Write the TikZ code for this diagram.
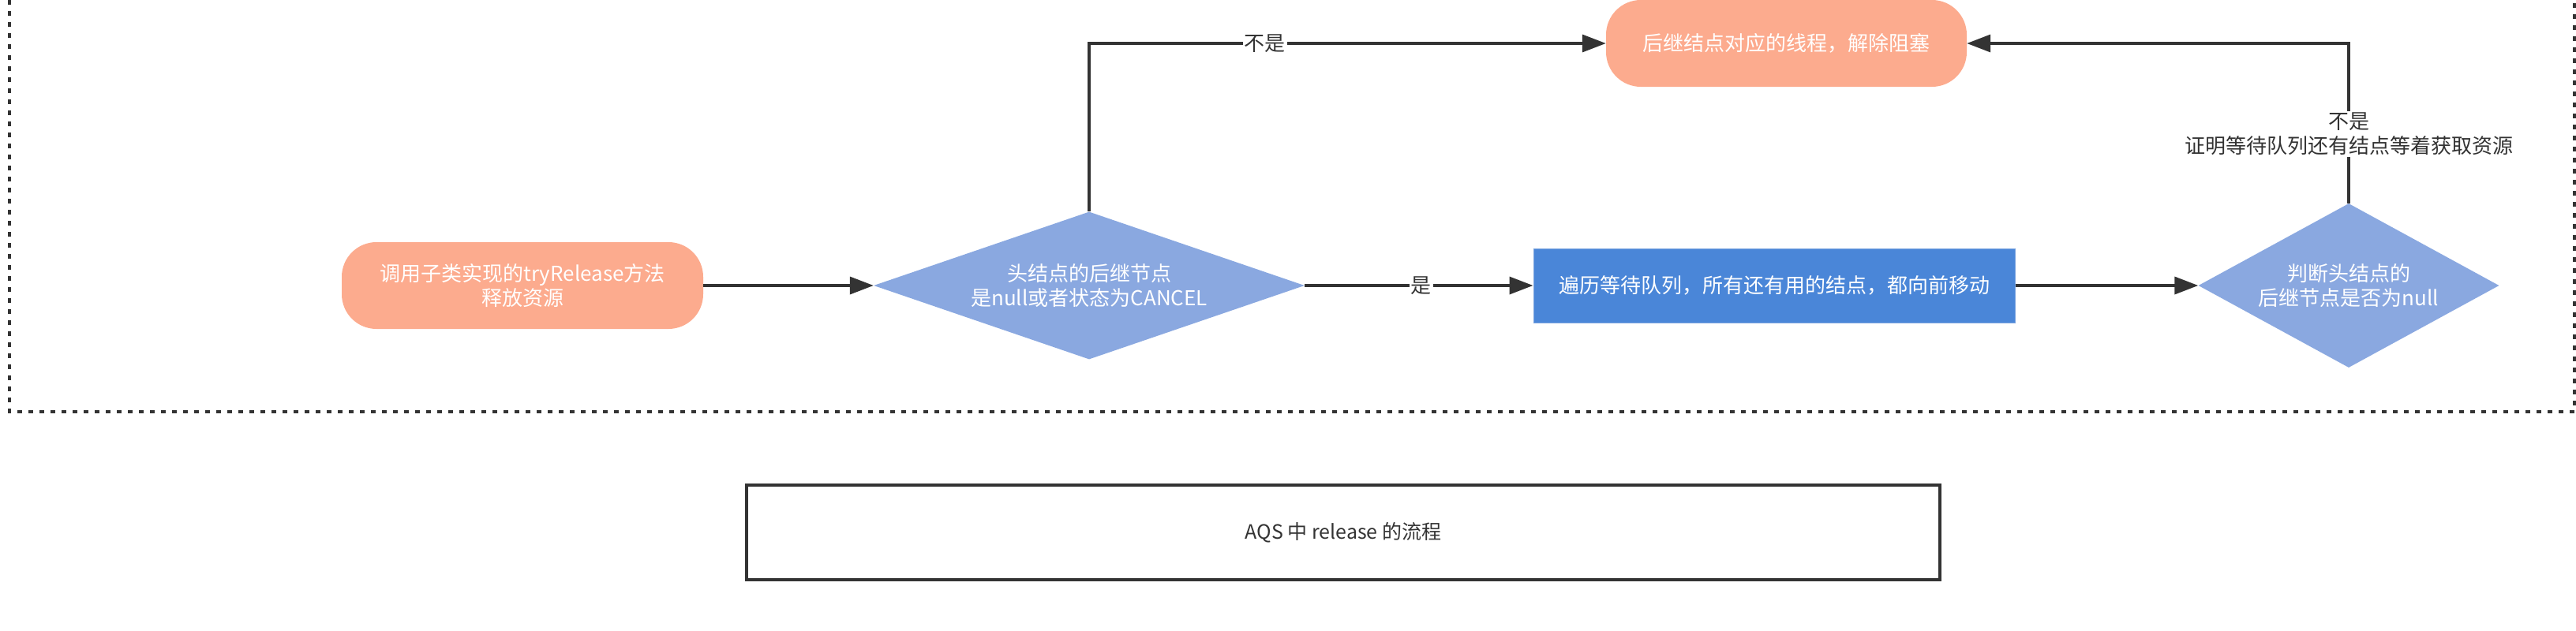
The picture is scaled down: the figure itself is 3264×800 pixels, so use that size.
\documentclass[tikz,border=0pt]{standalone}
\usepackage{fontspec}
\setmainfont{Noto Sans CJK SC}
\usetikzlibrary{arrows.meta,shapes.geometric}
\definecolor{salmon}{HTML}{FCAB8E}
\definecolor{dblue}{HTML}{8AA8E0}
\definecolor{rblue}{HTML}{4A86D8}
\definecolor{rborder}{HTML}{7EA6E0}
\definecolor{ink}{HTML}{333333}
\begin{document}
\begin{tikzpicture}[x=1pt,y=-1pt,
  txt/.style={font=\fontsize{26pt}{31pt}\selectfont, align=center},
  pill/.style={txt, fill=salmon, text=white, rounded corners=44pt, minimum width=458pt, minimum height=110pt, inner sep=0pt},
  decision/.style={diamond, fill=dblue, inner sep=0pt},
  dtext/.style={txt, text=white},
  procbox/.style={txt, fill=rblue, draw=rborder, line width=1pt, text=white, minimum width=610pt, minimum height=94pt, inner sep=0pt},
  arr/.style={draw=ink, line width=3.5pt, -{Triangle[length=30pt,width=22pt]}},
  lbl/.style={txt, fill=white, text=ink, inner sep=2pt},
  framestyle/.style={draw=ink, line width=4pt, dash pattern=on 6pt off 8pt},
  captionbox/.style={draw=ink, line width=3.5pt, text=ink, font=\fontsize{25pt}{30pt}\selectfont, minimum width=1512pt, minimum height=120pt, inner sep=0pt}
]
\useasboundingbox (0,0) rectangle (3264,800);

% dashed frame (top edge outside the picture)
\draw[framestyle] (12,0) -- (12,522) -- (3262,522) -- (3262,0);

% nodes
\node[pill] (start) at (662,362) {调用子类实现的tryRelease方法\\释放资源};
\node[decision, minimum width=546pt, minimum height=187pt] (d1) at (1380,362) {};
\node[dtext] (d1t) at (d1.center) {头结点的后继节点\\是null或者状态为CANCEL};
\node[procbox] (proc) at (2248,362) {遍历等待队列，所有还有用的结点，都向前移动};
\node[decision, minimum width=381pt, minimum height=208pt] (d2) at (2976,362) {};
\node[dtext] (d2t) at (d2.center) {判断头结点的\\后继节点是否为null};
\node[pill, minimum width=457pt] (wake) at (2263.5,55) {后继结点对应的线程，解除阻塞};
\node[captionbox] (cap) at (1702,675) {AQS 中 release 的流程};

% connectors
\draw[arr] (start.east) -- (d1.west);
\draw[arr] (d1.east) -- node[lbl, pos=0.51] {是} (proc.west);
\draw[arr] (proc.east) -- (d2.west);
\draw[arr] (d1.north) |- node[lbl, pos=0.67] {不是} (wake.west);
\draw[arr] (d2.north) |- node[lbl, pos=0.216] {不是\\证明等待队列还有结点等着获取资源} (wake.east);
\end{tikzpicture}
\end{document}
